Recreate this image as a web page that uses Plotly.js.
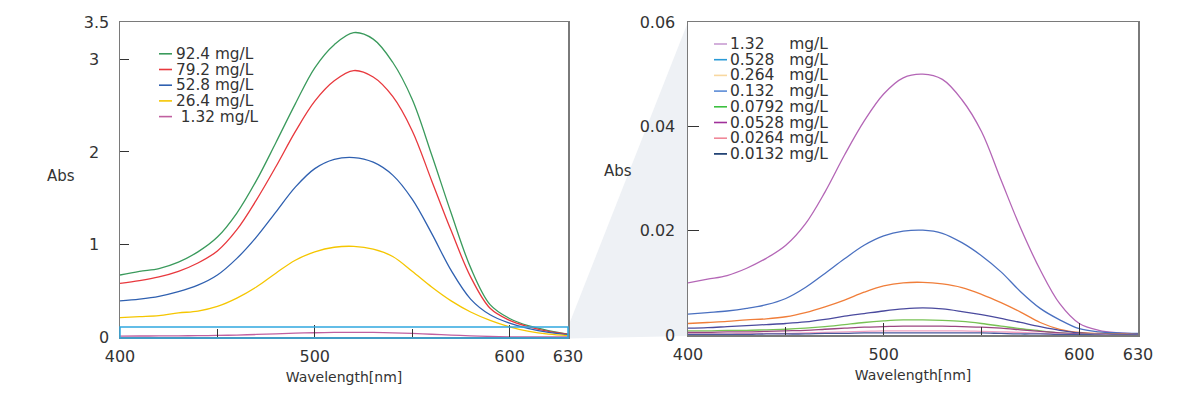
<!DOCTYPE html>
<html><head><meta charset="utf-8">
<script src="https://cdn.plot.ly/plotly-3.0.1.min.js"></script>
<style>html,body{margin:0;padding:0;background:#fff;}#chart{width:1200px;height:400px;}</style>
</head><body><div id="chart"></div>
<script>
// ---------- data ----------
const wavelength = [400,410,420,430,440,450,460,470,480,490,500,510,520,530,540,550,560,570,580,590,600,610,620,630];
const NB = '\u00A0';

// left panel (high concentrations)
const leftNames = ['92.4 mg/L','79.2 mg/L','52.8 mg/L','26.4 mg/L',NB+'1.32 mg/L'];
const abs_92_4 = [0.67,0.71,0.74,0.81,0.92,1.08,1.34,1.69,2.10,2.52,2.91,3.16,3.29,3.22,2.97,2.57,1.97,1.34,0.75,0.35,0.20,0.12,0.07,0.03];
const abs_79_2 = [0.58,0.61,0.65,0.71,0.80,0.93,1.16,1.48,1.84,2.22,2.55,2.77,2.88,2.81,2.60,2.23,1.69,1.15,0.65,0.31,0.18,0.11,0.06,0.03];
const abs_52_8 = [0.39,0.41,0.44,0.49,0.56,0.67,0.85,1.08,1.35,1.62,1.82,1.92,1.94,1.89,1.75,1.49,1.12,0.72,0.41,0.24,0.15,0.09,0.05,0.025];
const abs_26_4 = [0.21,0.22,0.23,0.26,0.28,0.33,0.42,0.54,0.69,0.83,0.92,0.97,0.98,0.95,0.87,0.71,0.54,0.39,0.27,0.18,0.11,0.06,0.03,0.015];
// right panel (low concentrations)
const rightNames = ['1.32'+NB.repeat(5)+'mg/L','0.528'+NB.repeat(3)+'mg/L','0.264'+NB.repeat(3)+'mg/L','0.132'+NB.repeat(3)+'mg/L','0.0792 mg/L','0.0528 mg/L','0.0264 mg/L','0.0132 mg/L'];
const abs_1_32   = [0.0100,0.0107,0.0114,0.0128,0.0147,0.0172,0.0213,0.0274,0.0345,0.0410,0.0462,0.0493,0.0500,0.0490,0.0451,0.0390,0.0297,0.0205,0.0125,0.0060,0.0022,0.0009,0.0004,0.0002];
const abs_0_528  = [0.0040,0.0043,0.0046,0.0051,0.0058,0.0070,0.0091,0.0118,0.0146,0.0172,0.0190,0.0199,0.0201,0.0195,0.0177,0.0152,0.0121,0.0083,0.0051,0.0029,0.0012,0.0006,0.0004,0.0003];
const abs_0_264  = [0.0022,0.0024,0.0026,0.0029,0.0031,0.0035,0.0043,0.0054,0.0067,0.0082,0.0094,0.0100,0.0101,0.0098,0.0091,0.0078,0.0062,0.0044,0.0024,0.0011,0.0005,0.0003,0.0002,0.0001];
const abs_0_132  = [0.0013,0.0014,0.0016,0.0018,0.0020,0.0022,0.0025,0.0030,0.0036,0.0041,0.0046,0.0050,0.0052,0.0050,0.0045,0.0039,0.0032,0.0024,0.0016,0.0009,0.0004,0.0002,0.0001,0.0001];
const abs_0_0792 = [0.0008,0.0008,0.0009,0.0009,0.0010,0.0011,0.0013,0.0016,0.0020,0.0024,0.0027,0.0029,0.0029,0.0028,0.0026,0.0022,0.0017,0.0012,0.0008,0.0004,0.0002,0.0001,0.0001,0.0000];
const abs_0_0528 = [0.0005,0.0005,0.0006,0.0006,0.0007,0.0008,0.0009,0.0011,0.0013,0.0015,0.0016,0.0017,0.0017,0.0017,0.0016,0.0015,0.0013,0.0010,0.0007,0.0004,0.0002,0.0001,0.0001,0.0000];
const abs_0_0264 = [0.0002,0.0002,0.0002,0.0003,0.0003,0.0003,0.0004,0.0005,0.0006,0.0007,0.0008,0.0008,0.0008,0.0008,0.0008,0.0007,0.0006,0.0005,0.0003,0.0002,0.0001,0.0001,0.0000,0.0000];
const abs_0_0132 = [0.0001,0.0001,0.0001,0.0001,0.0002,0.0002,0.0002,0.0003,0.0003,0.0004,0.0004,0.0004,0.0004,0.0004,0.0004,0.0004,0.0003,0.0002,0.0002,0.0001,0.0001,0.0000,0.0000,0.0000];

const leftSeries = [abs_92_4, abs_79_2, abs_52_8, abs_26_4, abs_1_32];
const leftColors = ['#3a9a5c','#e8383d','#2f60b0','#f5c600','#c060a0'];
const rightSeries = [abs_1_32, abs_0_528, abs_0_264, abs_0_132, abs_0_0792, abs_0_0528, abs_0_0264, abs_0_0132];
const rightLineColors = ['#b466b6','#4a70c0','#f07e3a','#4a4a9e','#78c254','#9a4580','#f0a0c0','#4a5aa0'];
const rightLegendColors = ['#c89cd2','#2a9ad6','#f8d8a0','#5b8bd6','#3cc040','#a0309a','#f08898','#0b2f66'];

const xTickVals = [400,500,600,630];
const xMinorVals = [450,550];
const leftYTickVals = [0,1,2,3,3.405];
const leftYTickText = ['0','1'+NB+NB,'2'+NB+NB,'3'+NB+NB,'3.5'];
const rightYTickVals = [0,0.02,0.04,0.06];
const rightYTickText = ['0','0.02','0.04','0.06'];

// ---------- layout helpers ----------
const W = 1200, H = 400;
const px = v => v / W, py = v => 1 - v / H;
const FONT = 'DejaVu Sans, sans-serif';
const TXT = '#333333';

const traces = [];
leftSeries.forEach((s,i)=>traces.push({x:wavelength,y:s,xaxis:'x',yaxis:'y',type:'scatter',mode:'lines',
  line:{color:leftColors[i],width:1.3,shape:'spline',smoothing:1},name:leftNames[i],showlegend:false}));
rightSeries.forEach((s,i)=>traces.push({x:wavelength,y:s,xaxis:'x2',yaxis:'y2',type:'scatter',mode:'lines',
  line:{color:rightLineColors[i],width:1.3,shape:'spline',smoothing:1},name:rightNames[i],showlegend:false}));

const shapes = [];
const annotations = [];

// zoom wedge (drawn behind)
shapes.push({type:'path',xref:'paper',yref:'paper',layer:'below',
  path:`M${px(568)},${py(327)} L${px(688)},${py(22)} L${px(688)},${py(336)} L${px(568)},${py(338.5)} Z`,
  fillcolor:'#eef1f5',line:{width:0}});
// highlighted box on left panel
shapes.push({type:'rect',xref:'paper',yref:'paper',x0:px(120),x1:px(568),y0:py(338),y1:py(327),
  line:{color:'#30a8e0',width:1.5},fillcolor:'rgba(0,0,0,0)'});

// legend: one multi-line text block + colour swatches per row
function addLegend(names, colors, swX, y0, step, swLen, textX, glyph){
  const n = names.length;
  names.forEach((nm,i)=>{
    const yy = y0 + i*step;
    shapes.push({type:'line',xref:'paper',yref:'paper',x0:px(swX),x1:px(swX+swLen),y0:py(yy),y1:py(yy),
      line:{color:colors[i],width:1.6}});
  });
  annotations.push({xref:'paper',yref:'paper',x:px(textX),y:py(y0 + (n-1)*step/2),xanchor:'left',yanchor:'middle',
    align:'left',showarrow:false,borderpad:0,
    text:names.map(nm=>`<span style="font-size:${glyph}px">${nm}</span>`).join('<br>'),
    font:{family:FONT,size:step/1.3,color:TXT}});
}
addLegend(leftNames, leftColors, 159, 53.8, 15.7, 13, 175, 15.3);
addLegend(rightNames, rightLegendColors, 714, 44, 15.7, 13, 729, 15.5);

annotations.push({xref:'paper',yref:'paper',x:px(61),y:py(176),xanchor:'center',yanchor:'middle',text:'Abs',showarrow:false,
  font:{family:FONT,size:15,color:TXT}});
annotations.push({xref:'paper',yref:'paper',x:px(618),y:py(171),xanchor:'center',yanchor:'middle',text:'Abs',showarrow:false,
  font:{family:FONT,size:15,color:TXT}});

const axisCommon = {showline:true,mirror:true,linecolor:'#7a7a7a',linewidth:1.5,showgrid:false,zeroline:false,
  ticks:'inside',tickcolor:'#333',tickwidth:1,tickfont:{family:FONT,size:16,color:TXT},fixedrange:true};

const xCommon = Object.assign({},axisCommon,{range:[400,630],tickmode:'array',tickvals:xTickVals,ticklen:12,
  ticklabelstandoff:4,
  minor:{tickmode:'array',tickvals:xMinorVals,ticks:'inside',ticklen:8,tickcolor:'#333',tickwidth:1},
  title:{text:'Wavelength[nm]',font:{family:FONT,size:14,color:TXT},standoff:7}});

const layout = {
  width:W,height:H,margin:{l:0,r:0,t:0,b:0},paper_bgcolor:'#fff',plot_bgcolor:'#fff',showlegend:false,
  xaxis:Object.assign({},xCommon,{domain:[px(120),px(568)],anchor:'y'}),
  yaxis:Object.assign({},axisCommon,{domain:[py(337),py(22)],range:[0,3.405],tickmode:'array',
    tickvals:leftYTickVals,ticktext:leftYTickText,ticklen:9,ticklabelstandoff:6,anchor:'x'}),
  xaxis2:Object.assign({},xCommon,{domain:[px(688),px(1138)],anchor:'y2'}),
  yaxis2:Object.assign({},axisCommon,{domain:[py(335),py(22)],range:[0,0.06],tickmode:'array',
    tickvals:rightYTickVals,ticktext:rightYTickText,ticklen:11,ticklabelstandoff:8,anchor:'x2'}),
  shapes:shapes,annotations:annotations
};

Plotly.newPlot('chart',traces,layout,{displayModeBar:false,staticPlot:true});
</script></body></html>
